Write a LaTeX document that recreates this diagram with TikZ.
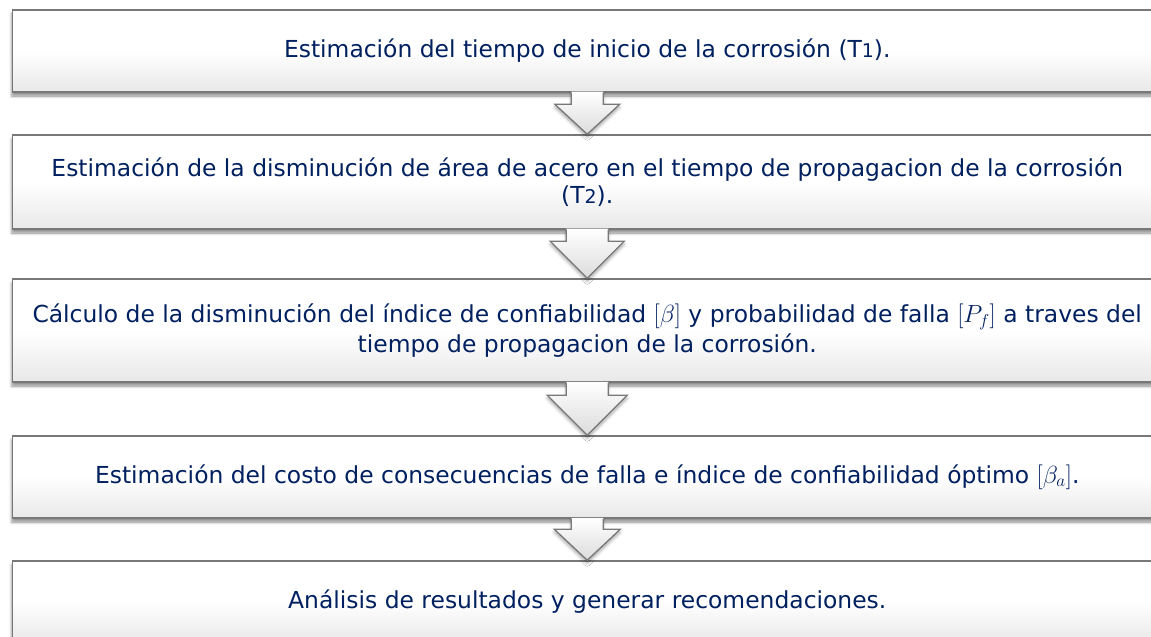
\documentclass[tikz,border=0pt]{standalone}
\usepackage{fontspec}
\setmainfont{DejaVu Sans}
\usetikzlibrary{calc,shadows,shadows.blur}
\definecolor{txtblue}{RGB}{0,32,96}
\definecolor{edgegray}{RGB}{120,120,120}
\tikzset{
  stepbox/.style={draw=edgegray, line width=1.5bp, rectangle, minimum width=1149.5bp,
    inner sep=0pt, align=center, text=txtblue, font=\fontsize{23.5}{27}\selectfont,
    top color=white, bottom color=black!9, middle color=white,
    blur shadow={shadow xshift=-0.5bp, shadow yshift=-4bp, shadow blur radius=3bp, shadow opacity=45}},
  arrowfill/.style={top color=white, bottom color=black!14,
    blur shadow={shadow xshift=0bp, shadow yshift=-3bp, shadow blur radius=3bp, shadow opacity=35}},
  arrowedge/.style={draw=edgegray, line width=1.3bp, line join=miter},
}
% #1 upper node, #2 lower node, #3 shaft half width, #4 head half width, #5 head depth
\newcommand{\blkarrow}[5]{%
  \path[arrowfill] let \p1=(#1.south), \p2=(#2.north) in
    (\x1-#3,\y1+1bp) -- (\x1-#3,\y2+#5) -- (\x1-#4,\y2+#5) -- (\x1,\y2)
    -- (\x1+#4,\y2+#5) -- (\x1+#3,\y2+#5) -- (\x1+#3,\y1+1bp) -- cycle;
  \draw[arrowedge] let \p1=(#1.south), \p2=(#2.north) in
    (\x1-#3,\y1) -- (\x1-#3,\y2+#5) -- (\x1-#4,\y2+#5) -- (\x1,\y2)
    -- (\x1+#4,\y2+#5) -- (\x1+#3,\y2+#5) -- (\x1+#3,\y1);
}
\newcommand{\smallnum}[1]{{\fontsize{19}{19}\selectfont #1}}
\begin{document}
\begin{tikzpicture}[x=1bp,y=-1bp]
\useasboundingbox (0,0) rectangle (1151,637);
\node[stepbox, minimum height=82bp] (b1) at (587.25,51)
  {Estimación del tiempo de inicio de la corrosión (T\smallnum{1}).};
\node[stepbox, minimum height=94bp] (b2) at (587.25,182)
  {Estimación de la disminución de área de acero en el tiempo de propagacion de la corrosión\\(T\smallnum{2}).};
\node[stepbox, minimum height=103bp] (b3) at (587.25,330.5)
  {Cálculo de la disminución del índice de confiabilidad $[\beta]$ y probabilidad de falla $[P_f]$ a traves del\\[3bp]tiempo de propagacion de la corrosión.};
\node[stepbox, minimum height=82bp] (b4) at (587.25,477)
  {Estimación del costo de consecuencias de falla e índice de confiabilidad óptimo $[\beta_a]$.};
\node[stepbox, minimum height=82bp] (b5) at (587.25,602)
  {Análisis de resultados y generar recomendaciones.};
\blkarrow{b1}{b2}{16bp}{32.5bp}{30bp}
\blkarrow{b2}{b3}{21bp}{37bp}{37bp}
\blkarrow{b3}{b4}{21bp}{40bp}{40bp}
\blkarrow{b4}{b5}{16bp}{33bp}{31bp}
\end{tikzpicture}
\end{document}
